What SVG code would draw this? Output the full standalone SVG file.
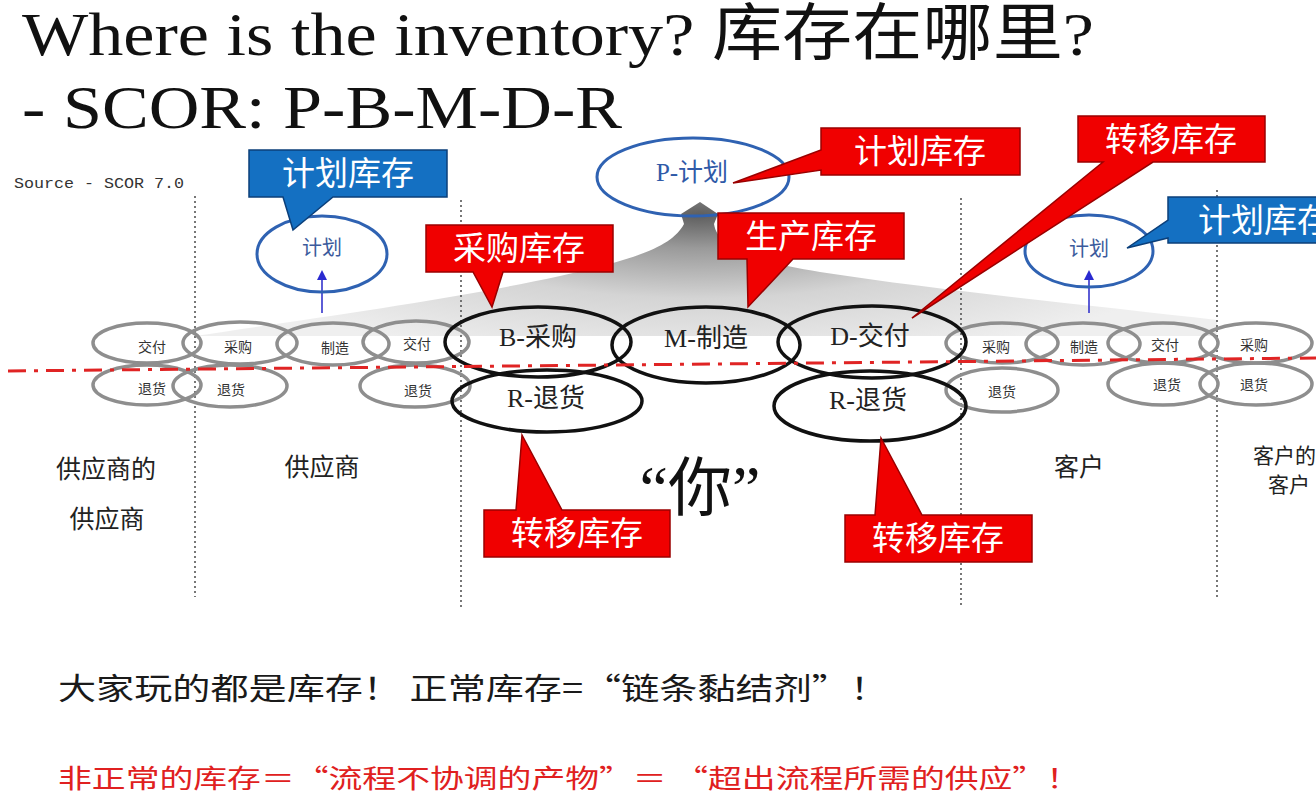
<svg xmlns="http://www.w3.org/2000/svg" width="1316" height="806" viewBox="0 0 1316 806">
<defs>
<style>
.title{font-family:"Liberation Serif","Noto Sans CJK SC",serif;font-size:62px;fill:#111}
.g{fill:none;stroke:#8e8e8e;stroke-width:3.5}
.k{fill:none;stroke:#111;stroke-width:3.5}
.b{fill:none;stroke:#2f62b2;stroke-width:3}
.gt{font-family:"Noto Sans CJK SC",sans-serif;font-size:14px;fill:#333;text-anchor:middle}
.kt{font-family:"Liberation Serif","Noto Sans CJK SC",serif;font-size:26px;fill:#222;text-anchor:middle}
.bt{font-family:"Noto Sans CJK SC",sans-serif;font-size:20px;fill:#3b5a9c;text-anchor:middle}
.red{fill:#f00000;stroke:#9a0000;stroke-width:1.5}
.blue{fill:#1470c2;stroke:#0b3f7a;stroke-width:1.5}
.ct{font-family:"Noto Sans CJK SC",sans-serif;font-size:33px;fill:#fff;text-anchor:middle}
.lab{font-family:"Noto Sans CJK SC",sans-serif;font-size:25px;fill:#222;text-anchor:middle}
.vd{stroke:#555;stroke-width:1.6;stroke-dasharray:2 3}
</style>
<radialGradient id="mt" gradientUnits="userSpaceOnUse" cx="700" cy="215" r="540" gradientTransform="translate(700 215) scale(1 0.28) translate(-700 -215)">
<stop offset="0" stop-color="#5e5e5e"/>
<stop offset="0.22" stop-color="#9a9a9a"/>
<stop offset="0.55" stop-color="#d4d4d4"/>
<stop offset="1" stop-color="#efefef"/>
</radialGradient>
<marker id="ah" markerWidth="10" markerHeight="10" refX="5" refY="5" orient="auto" markerUnits="userSpaceOnUse">
<path d="M0,0 L10,5 L0,10 Z" fill="#2a2ad0"/>
</marker>
</defs>
<rect width="1316" height="806" fill="#fff"/>

<g id="title">
<text class="title" x="22" y="55" textLength="1072" lengthAdjust="spacingAndGlyphs">Where is the inventory? 库存在哪里?</text>
<text class="title" x="22" y="128" textLength="600" lengthAdjust="spacingAndGlyphs">- SCOR: P-B-M-D-R</text>
</g>
<g id="source">
<text x="14" y="188" font-family="Liberation Mono, monospace" font-size="15" fill="#333" textLength="170" lengthAdjust="spacingAndGlyphs">Source - SCOR 7.0</text>
</g>

<g id="connectors">
<path d="M195,336 C300,320 450,300 560,276 C640,258 672,246 684,224 L681,214 L700,202 L718,214 L714,224 C718,250 760,262 820,272 C950,292 1100,306 1217,320 L1217,336 Z" fill="url(#mt)"/>
<line x1="322" y1="313" x2="322" y2="275" stroke="#3434cc" stroke-width="1.6" marker-end="url(#ah)"/>
<line x1="1089" y1="313" x2="1089" y2="275" stroke="#3434cc" stroke-width="1.6" marker-end="url(#ah)"/>
</g>

<g id="dividers">
<line class="vd" x1="195" y1="196" x2="195" y2="597"/>
<line class="vd" x1="461" y1="200" x2="461" y2="607"/>
<line class="vd" x1="961" y1="198" x2="961" y2="606"/>
<line class="vd" x1="1217" y1="190" x2="1217" y2="600"/>
</g>

<g id="supplier-supplier">
<ellipse class="g" cx="147" cy="343" rx="54" ry="20"/>
<ellipse class="g" cx="147" cy="385" rx="54" ry="20"/>
<text class="gt" x="152" y="352">交付</text>
<text class="gt" x="152" y="394">退货</text>
</g>
<g id="supplier">
<ellipse class="g" cx="240" cy="343" rx="57" ry="21"/>
<ellipse class="g" cx="333" cy="344" rx="56" ry="21"/>
<ellipse class="g" cx="416" cy="342" rx="53" ry="21"/>
<ellipse class="g" cx="230" cy="386" rx="57" ry="21"/>
<ellipse class="g" cx="415" cy="386" rx="55" ry="21"/>
<text class="gt" x="238" y="352">采购</text>
<text class="gt" x="335" y="353">制造</text>
<text class="gt" x="417" y="349">交付</text>
<text class="gt" x="231" y="395">退货</text>
<text class="gt" x="418" y="396">退货</text>
</g>
<g id="customer">
<ellipse class="g" cx="1002" cy="343" rx="56" ry="20"/>
<ellipse class="g" cx="1083" cy="344" rx="57" ry="21"/>
<ellipse class="g" cx="1163" cy="343" rx="55" ry="20"/>
<ellipse class="g" cx="1002" cy="390" rx="56" ry="22"/>
<ellipse class="g" cx="1163" cy="384" rx="55" ry="21"/>
<text class="gt" x="996" y="352">采购</text>
<text class="gt" x="1084" y="352">制造</text>
<text class="gt" x="1165" y="350">交付</text>
<text class="gt" x="1002" y="397">退货</text>
<text class="gt" x="1167" y="390">退货</text>
</g>
<g id="customer-customer">
<ellipse class="g" cx="1256" cy="343" rx="56" ry="20"/>
<ellipse class="g" cx="1256" cy="384" rx="56" ry="21"/>
<text class="gt" x="1254" y="350">采购</text>
<text class="gt" x="1254" y="390">退货</text>
</g>

<g id="you">
<ellipse class="k" cx="538" cy="342" rx="93" ry="35"/>
<ellipse class="k" cx="706" cy="345" rx="94" ry="38"/>
<ellipse class="k" cx="872" cy="342" rx="94" ry="36"/>
<ellipse class="k" cx="547" cy="401" rx="95" ry="31"/>
<ellipse class="k" cx="870" cy="406" rx="96" ry="35"/>
</g>

<line id="boundary" x1="8" y1="371" x2="1316" y2="358" stroke="#e02424" stroke-width="3" stroke-dasharray="18 8 4 8"/>

<g id="you-labels">
<text class="kt" x="538" y="346">B-采购</text>
<text class="kt" x="706" y="347">M-制造</text>
<text class="kt" x="870" y="345">D-交付</text>
<text class="kt" x="546" y="407">R-退货</text>
<text class="kt" x="868" y="409">R-退货</text>
</g>

<g id="plan-main">
<ellipse class="b" cx="693" cy="177" rx="96" ry="39"/>
<text x="692" y="181" font-family="Liberation Serif, Noto Sans CJK SC, serif" font-size="25" fill="#2f5aa8" text-anchor="middle">P-计划</text>
</g>
<g id="plan-supplier">
<ellipse class="b" cx="322" cy="254" rx="65" ry="38"/>
<text class="bt" x="322" y="255">计划</text>
</g>
<g id="plan-customer">
<ellipse class="b" cx="1089" cy="251" rx="64" ry="36"/>
<text class="bt" x="1089" y="256">计划</text>
</g>

<g id="callout-plan-top">
<path class="red" d="M821,128 H1020 V175 H821 V170 L733,183 L821,150 Z"/>
<text class="ct" x="920" y="163">计划库存</text>
</g>
<g id="callout-transfer-top">
<path class="red" d="M1078,116 H1265 V162 H1153 L912,318 L1103,162 H1078 Z"/>
<text class="ct" x="1171" y="151">转移库存</text>
</g>
<g id="callout-plan-left">
<path class="blue" d="M249,150 H447 V197 H333 L293,230 L283,197 H249 Z"/>
<text class="ct" x="348" y="185">计划库存</text>
</g>
<g id="callout-plan-right">
<path class="blue" d="M1168,197 H1320 V243 H1168 V238 L1127,248 L1168,220 Z"/>
<text class="ct" x="1198" y="232" style="text-anchor:start">计划库存</text>
</g>
<g id="callout-purchase">
<path class="red" d="M426,225 H613 V272 H503 L492,307 L473,272 H426 Z"/>
<text class="ct" x="519" y="260">采购库存</text>
</g>
<g id="callout-production">
<path class="red" d="M718,213 H904 V259 H793 L748,307 L747,259 H718 Z"/>
<text class="ct" x="811" y="248">生产库存</text>
</g>
<g id="callout-transfer-left">
<path class="red" d="M484,510 H516 L522,435 L562,510 H670 V557 H484 Z"/>
<text class="ct" x="577" y="545">转移库存</text>
</g>
<g id="callout-transfer-right">
<path class="red" d="M845,515 H875 L881,438 L922,515 H1032 V562 H845 Z"/>
<text class="ct" x="938" y="550">转移库存</text>
</g>

<g id="labels">
<text class="lab" x="106" y="478">供应商的</text>
<text class="lab" x="107" y="528">供应商</text>
<text class="lab" x="322" y="476">供应商</text>
<text class="lab" x="1079" y="476">客户</text>
<text class="lab" x="1253" y="463" style="text-anchor:start;font-size:21px">客户的</text>
<text class="lab" x="1268" y="492" style="text-anchor:start;font-size:21px">客户</text>
<text x="700" y="510" font-family="Liberation Serif, Noto Sans CJK SC, serif" font-size="64" fill="#111" text-anchor="middle">“你”</text>
</g>

<g id="notes">
<text x="58" y="699" font-family="Noto Sans CJK SC, sans-serif" font-size="30" fill="#1a1a1a" textLength="830" lengthAdjust="spacingAndGlyphs">大家玩的都是库存！ 正常库存=“链条黏结剂”！</text>
<text x="58" y="788" font-family="Noto Sans CJK SC, sans-serif" font-size="26" fill="#e02020" textLength="1022" lengthAdjust="spacingAndGlyphs">非正常的库存＝“流程不协调的产物”＝ “超出流程所需的供应”！</text>
</g>
</svg>
